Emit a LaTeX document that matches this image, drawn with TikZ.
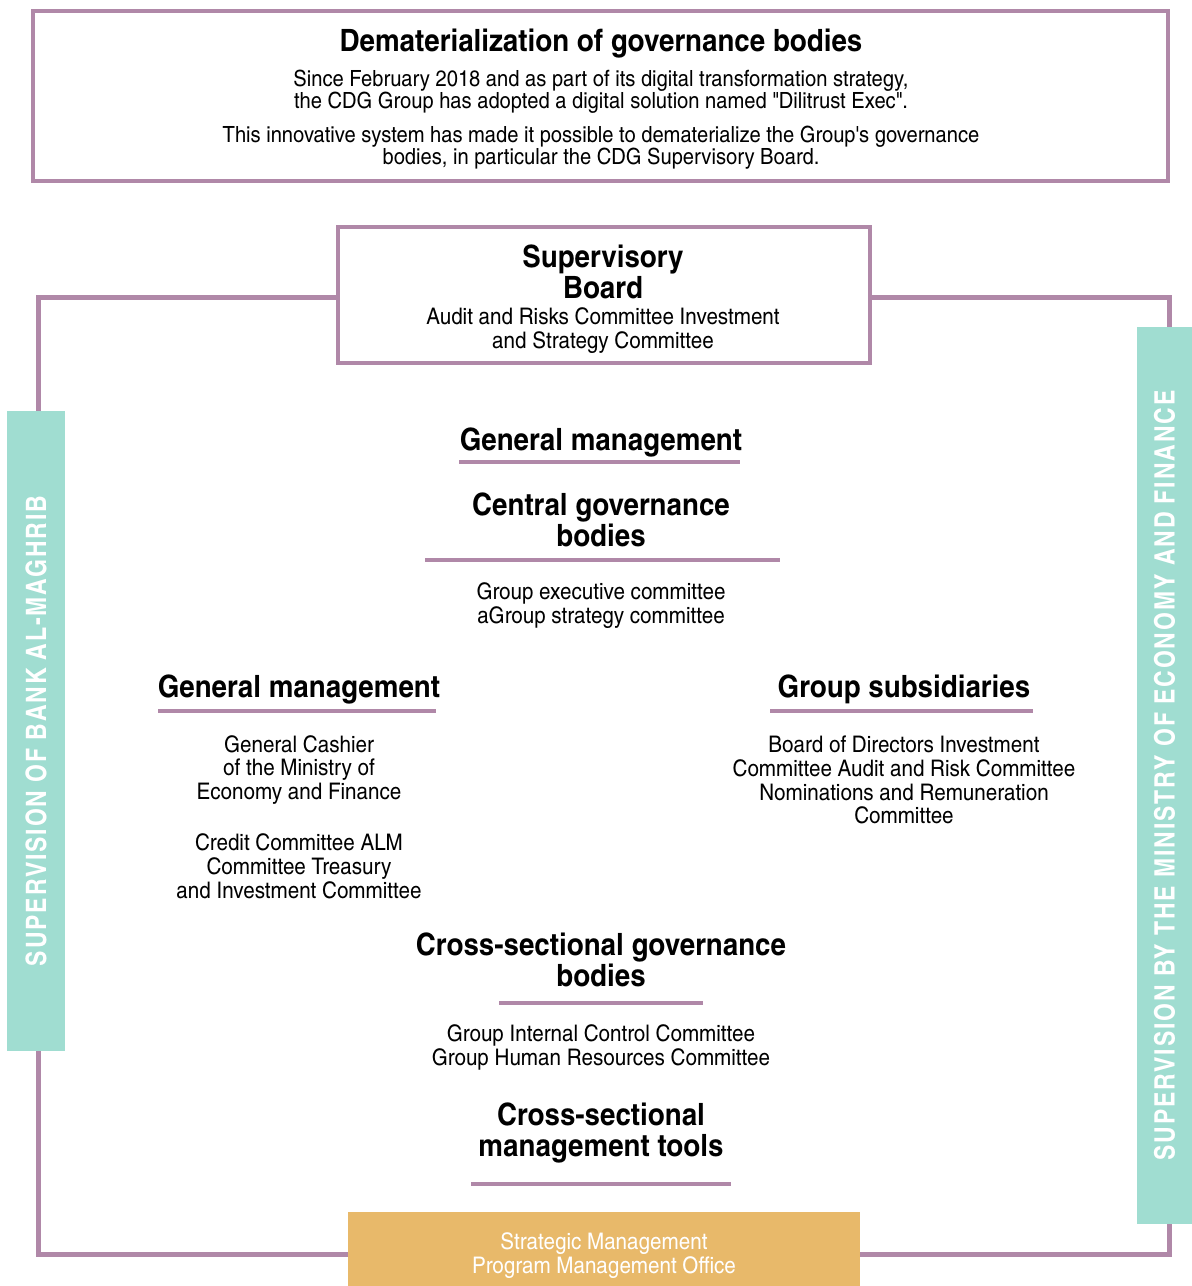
\documentclass[tikz,border=0pt]{standalone}
\usepackage{fontspec}
\setmainfont{texgyreheroscn}[Extension=.otf, UprightFont=*-regular, BoldFont=*-bold, ItalicFont=*-italic, BoldItalicFont=*-bolditalic]
\newfontfamily\headfont{texgyreheroscn}[Extension=.otf, UprightFont=*-bold, FakeStretch=1.1]
\newfontfamily\bodyfont{texgyreheroscn}[Extension=.otf, UprightFont=*-regular, FakeStretch=1.1]
\newfontfamily\sidefont{texgyreheroscn}[Extension=.otf, UprightFont=*-bold, LetterSpace=6.6]
\usepackage{xcolor}
\usetikzlibrary{calc}

\definecolor{frameline}{RGB}{176,136,168}
\definecolor{supbar}{RGB}{160,221,209}
\definecolor{pmogold}{RGB}{232,185,106}

\tikzset{
    heading/.style={font=\headfont\fontsize{17.5}{18}\selectfont, align=center, inner sep=0pt},
    body/.style={font=\bodyfont\fontsize{13}{13.6}\selectfont, align=center, inner sep=0pt},
    intro/.style={font=\bodyfont\fontsize{12.7}{12.5}\selectfont, align=center, inner sep=0pt},
    rule/.style={frameline, line width=2.6pt},
    supbox/.style={fill=supbar, text=white, inner sep=0pt, font=\sidefont\fontsize{16}{17}\selectfont},
}

\begin{document}
\begin{tikzpicture}[x=0.02cm, y=-0.02cm]
    \useasboundingbox (0,0) rectangle (1192,1286);

    % =====================
    % Dematerialization box
    % =====================
    \draw[frameline, line width=2.3pt] (33,11) rectangle (1168,181);
    \node[heading] (demat) at (601,44) {Dematerialization of governance bodies};
    \node[intro] (since) at (601,92) {Since February 2018 and as part of its digital transformation strategy,\\the CDG Group has adopted a digital solution named \textquotedbl Dilitrust Exec\textquotedbl.};
    \node[intro] (innov) at (601,148) {This innovative system has made it possible to dematerialize the Group\textquotesingle s governance\\bodies, in particular the CDG Supervisory Board.};

    % =====================
    % Frame and supervision bars
    % =====================
    \coordinate (frameNW) at (38.5,297.5);
    \coordinate (frameSE) at (1169.5,1254.5);
    \draw[frameline, line width=2.8pt] (frameNW) rectangle (frameSE);

    \node[supbox, rotate=90, minimum width=12.8cm, minimum height=1.16cm] (bam) at (36,731) {SUPERVISION OF BANK AL-MAGHRIB};
    \node[supbox, rotate=90, minimum width=17.94cm, minimum height=1.1cm] (mef) at (1164.5,775.5) {SUPERVISION BY THE MINISTRY OF ECONOMY AND FINANCE};

    % =====================
    % Supervisory Board
    % =====================
    \node[draw=frameline, line width=2.3pt, fill=white, minimum width=10.64cm, minimum height=2.72cm] (board) at (604,295) {};
    \node[heading] (boardtitle) at (603,272) {Supervisory\\Board};
    \node[body] (boardcom) at (603,331) {Audit and Risks Committee Investment\\and Strategy Committee};

    % =====================
    % Central column
    % =====================
    \node[heading] (genmgt) at (601,442) {General management};
    \draw[rule] (459,462) -- (740,462);

    \node[heading] (central) at (601,520) {Central governance\\bodies};
    \draw[rule] (425,560) -- (780,560);
    \node[body] (centralcom) at (601,606) {Group executive committee\\aGroup strategy committee};

    % =====================
    % Left and right columns
    % =====================
    \node[heading] (genmgtleft) at (299,689) {General management};
    \draw[rule] (158,711) -- (436,711);
    \node[body] (cashier) at (299,770) {General Cashier\\of the Ministry of\\Economy and Finance};
    \node[body] (credit) at (299,866) {Credit Committee ALM\\Committee Treasury\\and Investment Committee};

    \node[heading] (subsid) at (904,689) {Group subsidiaries};
    \draw[rule] (770,711) -- (1033,711);
    \node[body] (subsidcom) at (904,780) {Board of Directors Investment\\Committee Audit and Risk Committee\\Nominations and Remuneration\\Committee};

    % =====================
    % Cross-sectional
    % =====================
    \node[heading] (crossgov) at (601,960) {Cross-sectional governance\\bodies};
    \draw[rule] (499,1003) -- (703,1003);
    \node[body] (crossgovcom) at (601,1047) {Group Internal Control Committee\\Group Human Resources Committee};

    \node[heading] (crosstools) at (601,1133) {Cross-sectional\\management tools};
    \draw[rule] (471,1184) -- (731,1184);

    \node[fill=pmogold, minimum width=10.24cm, minimum height=1.48cm] (pmo) at (604,1249) {};
    \node[body, text=white] (pmotext) at (604,1256) {Strategic Management\\Program Management Office};
\end{tikzpicture}
\end{document}
